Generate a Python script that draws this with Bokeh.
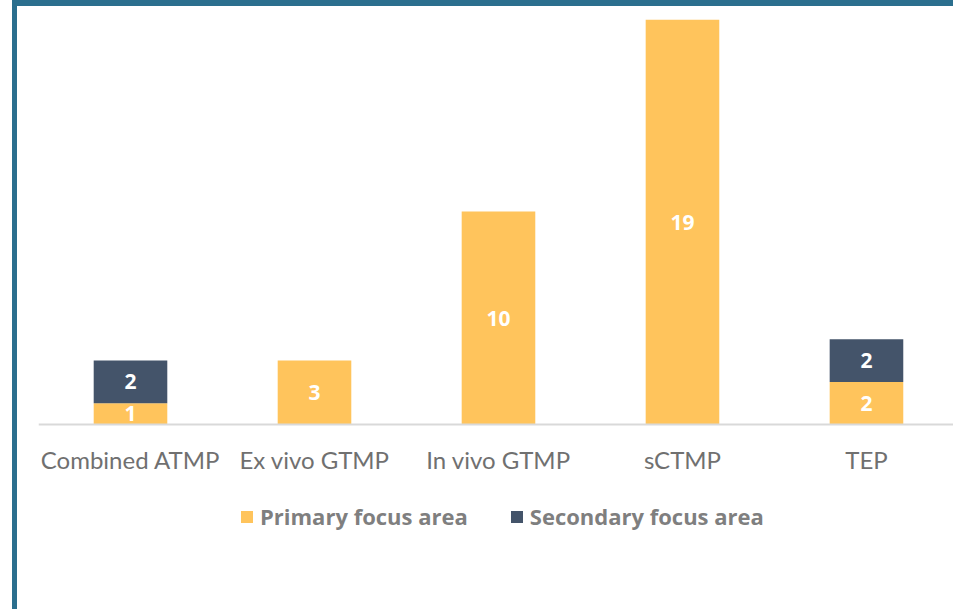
from bokeh.plotting import figure
from bokeh.models import ColumnDataSource, LabelSet, Legend, LegendItem, Range1d, FixedTicker
from bokeh.core.properties import value
from bokeh.embed import file_html
from bokeh.resources import INLINE

categories = ["Combined ATMP", "Ex vivo GTMP", "In vivo GTMP", "sCTMP", "TEP"]
primary = [1, 3, 10, 19, 2]
secondary = [2, 0, 0, 0, 2]

YELLOW = "#FFC45C"
NAVY = "#44546A"
BLUE = "#2B6F8E"

xs = list(range(len(categories)))
src = ColumnDataSource(dict(
    x=xs, primary=primary, secondary=secondary,
    top2=[p + s for p, s in zip(primary, secondary)],
    ymid1=[p / 2 for p in primary],
    ymid2=[p + s / 2 for p, s in zip(primary, secondary)],
    lab1=[str(v) if v else "" for v in primary],
    lab2=[str(v) if v else "" for v in secondary],
))

p = figure(frame_width=915, frame_height=603, output_backend="svg", toolbar_location=None,
           x_range=Range1d(-0.5, 4.473), y_range=Range1d(-8.685, 19.624),
           min_border_left=21, min_border_right=0, min_border_top=0, min_border_bottom=0,
           y_axis_location=None)
p.styles = {"margin-left": "12px", "border-left": f"5px solid {BLUE}", "border-top": f"6px solid {BLUE}"}
p.outline_line_color = None
p.background_fill_color = "white"
p.border_fill_color = "white"
p.xgrid.visible = False
p.ygrid.visible = False

r1 = p.vbar(x="x", top="primary", bottom=0, width=0.4, source=src, fill_color=YELLOW, line_color=None)
r2 = p.vbar(x="x", top="top2", bottom="primary", width=0.4, source=src, fill_color=NAVY, line_color=None)

lab_style = dict(text_color="white", text_font=value("Open Sans"), text_font_style="bold",
                 text_font_size="21px", text_align="center", text_baseline="middle")
p.add_layout(LabelSet(x="x", y="ymid1", text="lab1", source=src, **lab_style))
p.add_layout(LabelSet(x="x", y="ymid2", text="lab2", source=src, **lab_style))

ax = p.xaxis[0]
ax.fixed_location = 0
ax.ticker = FixedTicker(ticks=xs)
ax.major_label_overrides = {i: c for i, c in enumerate(categories)}
ax.axis_line_color = "#D9D9D9"
ax.axis_line_width = 2
ax.major_tick_line_color = None
ax.minor_tick_line_color = None
ax.major_label_text_font = "Lato"
ax.major_label_text_font_size = "24px"
ax.major_label_text_color = "#707070"
ax.major_label_standoff = 14

legend = Legend(items=[LegendItem(label="Primary focus area", renderers=[r1]),
                       LegendItem(label="Secondary focus area", renderers=[r2])],
                orientation="horizontal", location=(201, 78),
                padding=0, margin=0, spacing=41, glyph_width=15, glyph_height=15,
                label_standoff=6, border_line_color=None, background_fill_alpha=0,
                label_text_font="Open Sans", label_text_font_style="bold", label_text_font_size="22px",
                label_text_color="#7F7F7F")
p.add_layout(legend, "center")

open("out.html", "w").write(file_html(p, INLINE))
